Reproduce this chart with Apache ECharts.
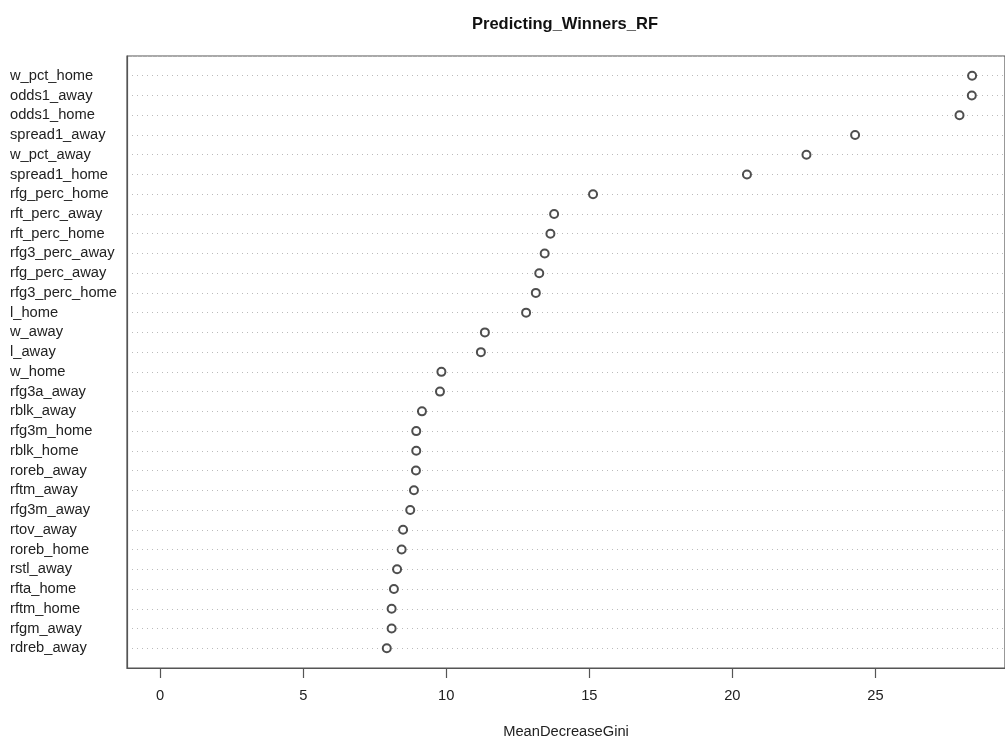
<!DOCTYPE html>
<html>
<head>
<meta charset="utf-8">
<script src="https://cdn.jsdelivr.net/npm/echarts@6/dist/echarts.min.js"></script>
<style>
  html, body { margin: 0; padding: 0; background: #fff; }
  #main { width: 1005px; height: 746px; }
</style>
</head>
<body>
<div id="main"></div>
<script>
// variable names, top to bottom
var features = ['w_pct_home', 'odds1_away', 'odds1_home', 'spread1_away', 'w_pct_away',
    'spread1_home', 'rfg_perc_home', 'rft_perc_away', 'rft_perc_home', 'rfg3_perc_away',
    'rfg_perc_away', 'rfg3_perc_home', 'l_home', 'w_away', 'l_away',
    'w_home', 'rfg3a_away', 'rblk_away', 'rfg3m_home', 'rblk_home',
    'roreb_away', 'rftm_away', 'rfg3m_away', 'rtov_away', 'roreb_home',
    'rstl_away', 'rfta_home', 'rftm_home', 'rfgm_away', 'rdreb_away'];
// MeanDecreaseGini
var gini = [28.38, 28.37, 27.94, 24.29, 22.59,
    20.51, 15.13, 13.77, 13.64, 13.44,
    13.25, 13.13, 12.79, 11.35, 11.21,
    9.83, 9.78, 9.15, 8.95, 8.95,
    8.94, 8.87, 8.74, 8.49, 8.44,
    8.28, 8.17, 8.09, 8.09, 7.92];
var xTicks = [0, 5, 10, 15, 20, 25];

var font = 'Liberation Sans, Arial, Helvetica, sans-serif';
var myChart = echarts.init(document.getElementById('main'));

var points = [];
for (var i = 0; i < gini.length; i++) {
    points.push([gini[i], i + 1]);
}

var option = {
    backgroundColor: '#fff',
    animation: false,
    title: {
        text: 'Predicting_Winners_RF',
        left: 467,
        top: 11,
        textStyle: { fontFamily: font, fontSize: 16.5, fontWeight: 'bold', color: '#111' }
    },
    grid: {
        left: 127, top: 56, right: -2, bottom: 78,
        show: true, borderColor: '#555', borderWidth: 1.2
    },
    xAxis: {
        type: 'value',
        min: -1.16,
        max: 29.53,
        name: 'MeanDecreaseGini',
        nameLocation: 'middle',
        nameGap: 56,
        nameTextStyle: { fontFamily: font, fontSize: 14.7, color: '#222' },
        axisLine: { show: true, onZero: false, lineStyle: { color: '#555', width: 1.2 } },
        axisTick: { show: true, length: 10, customValues: xTicks, lineStyle: { color: '#555', width: 1.2 } },
        axisLabel: { customValues: xTicks, margin: 20, fontFamily: font, fontSize: 14.7, color: '#222' },
        splitLine: { show: false }
    },
    yAxis: {
        type: 'value',
        inverse: true,
        min: 0,
        max: 31,
        interval: 1,
        axisLine: { show: true, onZero: false, lineStyle: { color: '#555', width: 1.2 } },
        axisTick: { show: false },
        axisLabel: {
            align: 'left',
            margin: 117,
            fontFamily: font,
            fontSize: 14.7,
            color: '#222',
            formatter: function (v) {
                return features[v - 1] || '';
            }
        },
        splitLine: {
            show: true,
            lineStyle: { type: [1, 4], color: '#bbb', width: 1 }
        }
    },
    series: [
        {
            type: 'scatter',
            data: points,
            symbol: 'emptyCircle',
            symbolSize: 8,
            itemStyle: { color: '#222', borderWidth: 1.3 }
        }
    ]
};
myChart.setOption(option);
</script>
</body>
</html>
